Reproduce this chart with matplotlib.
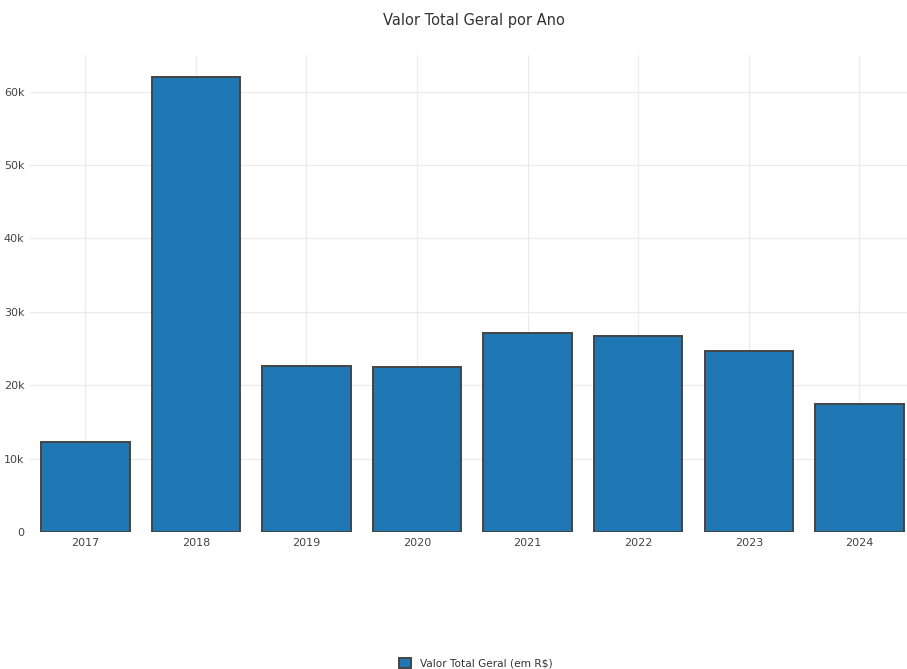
import matplotlib
matplotlib.use("Agg")
import matplotlib.pyplot as plt
from matplotlib.ticker import FuncFormatter

# Data
anos = ["2017", "2018", "2019", "2020", "2021", "2022", "2023", "2024"]
valores = [12250, 62050, 22650, 22550, 27150, 26750, 24700, 17450]
serie = "Valor Total Geral (em R\\$)"

fig = plt.figure(figsize=[9.07, 6.69], dpi=100)
ax = fig.add_axes([30 / 907, 137 / 669, 1 - 30 / 907, 477 / 669])

x = range(len(anos))
ax.bar(x, valores, width=0.8, color="#1f77b4", edgecolor="#444444",
       linewidth=1.4, label=serie, zorder=3)

ax.set_xlim(-0.5, 7.43)
ax.set_ylim(0, 65000)
ax.set_xticks(list(x))
ax.set_xticklabels(anos)
ax.set_yticks([0, 10000, 20000, 30000, 40000, 50000, 60000])
ax.yaxis.set_major_formatter(FuncFormatter(lambda v, p: "0" if v == 0 else "%dk" % (v / 1000)))
ax.tick_params(length=0, labelsize=8, colors="#444444", pad=4)
ax.grid(True, color="#ebebeb", linewidth=0.9, zorder=0)
for s in ax.spines.values():
    s.set_visible(False)

fig.text(0.523, 1 - 21 / 669, "Valor Total Geral por Ano", ha="center", va="center",
         fontsize=10.5, color="#333333")

fig.legend(loc="center", bbox_to_anchor=(476 / 907, 1 - 663 / 669), frameon=False,
           fontsize=7.6, handlelength=1.1, handleheight=1.1, handletextpad=0.9,
           labelcolor="#333333")

fig.savefig("out.png", dpi=100)
